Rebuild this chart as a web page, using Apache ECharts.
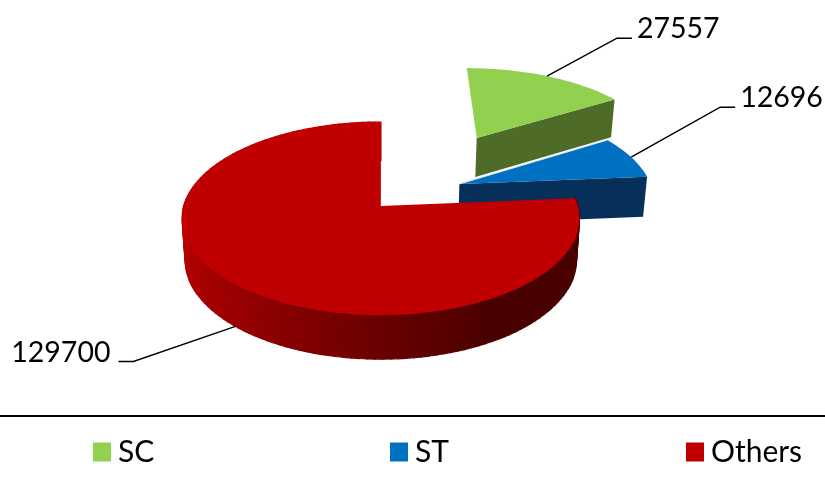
<!DOCTYPE html>
<html>
<head>
<meta charset="utf-8">
<style>html,body{margin:0;padding:0;background:#fff}#c{width:825px;height:478px}</style>
<script src="https://cdn.jsdelivr.net/npm/echarts@6/dist/echarts.min.js"></script>
</head>
<body>
<div id="c"></div>
<script>
var categories = ['SC', 'ST', 'Others'];
var values = [27557, 12696, 129700];
var colors = ['#92d050', '#0070c0', '#c00000'];

// scene constants for the perspective disc
var CX = 382, CY = 206, RX = 197, A = 94.9, K = 0.1295;
var explode = [[0.53, 0.79], [0.405, 0.239], [-0.006, 0]];
var outerWall = [false, false, true];
var wallStops = [[[0, 0.38], [85, 0.38], [150, 0.38], [180, 0.55], [222, 0.8], [270, 1], [360, 1]]];
var cutWall = ['#4e6c28', '#06305a', '#4a0000'];
// leader: elbow and end offset from the rim anchor; label offset from end
var leaders = [
  {dx: 70, dy: -38, len: 15, wall: false, gap: 5},
  {dx: 89, dy: -50, len: 15, wall: false, gap: 5},
  {dx: -102, dy: 35, len: -15, wall: true, gap: -8}
];

var total = values.reduce(function (a, b) { return a + b; }, 0);

function project(X, Y) {
  var s = 1 / (1 + K * Y);
  return [CX + RX * X * s, CY - A * Y * s, s];
}
function rimPoint(i, deg) {
  var t = deg * Math.PI / 180;
  return project(explode[i][0] + Math.sin(t), explode[i][1] + Math.cos(t));
}
function drop(p) {
  return [CX + (p[0] - CX) * 0.985, p[1] + 20 + 21 * p[2]];
}
function mult(c, m) {
  var n = parseInt(c.slice(1), 16);
  var r = Math.round((n >> 16 & 255) * m), g = Math.round((n >> 8 & 255) * m), b = Math.round((n & 255) * m);
  return 'rgb(' + r + ',' + g + ',' + b + ')';
}
function shade(deg) {
  var st = wallStops[0];
  for (var j = 1; j < st.length; j++) {
    if (deg <= st[j][0]) {
      var f = (deg - st[j - 1][0]) / (st[j][0] - st[j - 1][0]);
      return st[j - 1][1] + (st[j][1] - st[j - 1][1]) * f;
    }
  }
  return st[st.length - 1][1];
}

function makeRender(i) {
  return function (params, api) {
    var before = 0;
    for (var k = 0; k < i; k++) before += values[k];
    var a0 = before / total * 360;
    var a1 = a0 + api.value(0) / total * 360;
    var color = colors[i];
    var apex = project(explode[i][0], explode[i][1]);
    var children = [];
    var n = Math.max(4, Math.round((a1 - a0) / 2));
    var rim = [];
    for (var j = 0; j <= n; j++) rim.push(rimPoint(i, a0 + (a1 - a0) * j / n));
    // radial cut wall at the end angle
    var end = rim[n];
    children.push({type: 'polygon', shape: {points: [[apex[0], apex[1]], [end[0], end[1]], drop(end), drop(apex)]},
      style: {fill: cutWall[i]}});
    // outer wall
    if (outerWall[i]) {
      for (j = 0; j < n; j++) {
        var p = rim[j], q = rim[j + 1];
        var c = mult(color, shade(a0 + (a1 - a0) * (j + 0.5) / n));
        children.push({type: 'polygon', shape: {points: [[p[0], p[1]], [q[0], q[1]], drop(q), drop(p)]},
          style: {fill: c, stroke: c, lineWidth: 1.2}});
      }
    }
    // top face
    var pts = [[apex[0], apex[1]]].concat(rim.map(function (r) { return [r[0], r[1]]; }));
    children.push({type: 'polygon', shape: {points: pts}, style: {fill: color}});
    if (i === 1) {
      children.push({type: 'line', shape: {x1: apex[0], y1: apex[1], x2: rim[0][0], y2: rim[0][1]},
        style: {stroke: '#dfe8ee', lineWidth: 1}});
    }
    // leader and value label
    var L = leaders[i];
    var anchor = rimPoint(i, (a0 + a1) / 2);
    var from = L.wall ? drop(anchor) : anchor;
    var ex = from[0] + L.dx, ey = from[1] + L.dy, fx = ex + L.len;
    children.push({type: 'polyline', shape: {points: [[from[0], from[1]], [ex, ey], [fx, ey]]},
      style: {stroke: '#000', lineWidth: 1.5, fill: null}});
    children.push({type: 'text', style: {
      x: fx + L.gap, y: ey - 9, text: String(api.value(0)),
      font: '28.5px Lato', fill: '#000', textAlign: L.len > 0 ? 'left' : 'right', textVerticalAlign: 'middle'}});
    return {type: 'group', children: children};
  };
}

var chart = echarts.init(document.getElementById('c'), null, {renderer: 'canvas'});
var legendLeft = [93, 390, 686];
chart.setOption({
  animation: false,
  backgroundColor: '#fff',
  legend: categories.map(function (name, i) {
    return {
      data: [{name: name, icon: 'rect'}], left: legendLeft[i], top: 437, padding: 0,
      itemWidth: 18, itemHeight: 19, selectedMode: false,
      textStyle: {fontFamily: 'Lato', fontSize: 30, color: '#000', padding: [0, 0, 4, 2]}
    };
  }),
  graphic: [{type: 'line', shape: {x1: 0, y1: 416, x2: 825, y2: 416}, style: {stroke: '#000', lineWidth: 2}}],
  series: categories.map(function (name, i) {
    return {
      type: 'custom', name: name, coordinateSystem: 'none', silent: true,
      z: 2 + i, itemStyle: {color: colors[i]},
      renderItem: makeRender(i), data: [[values[i]]]
    };
  })
});
</script>
</body>
</html>
